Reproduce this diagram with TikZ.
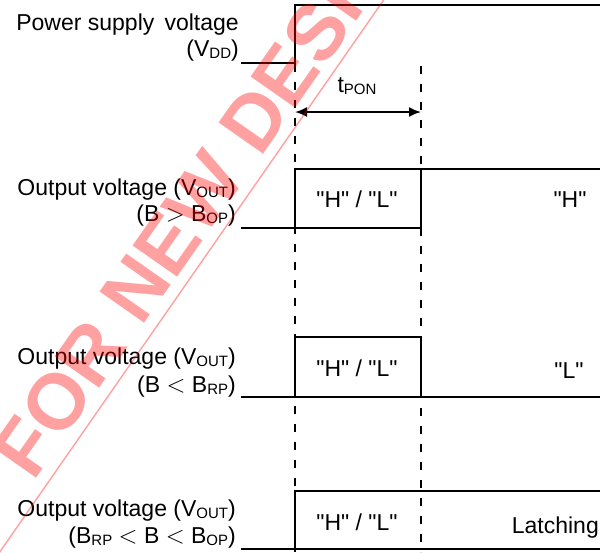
\documentclass[tikz,border=0pt]{standalone}
\usepackage{fontspec}
\setmainfont{Liberation Sans}
\usetikzlibrary{arrows.meta}
\newcommand\lsub[1]{\raisebox{-0.12em}{\fontsize{15}{15}\selectfont #1}}
\newcommand\qq[1]{\textquotedbl #1\textquotedbl}
\begin{document}
\begin{tikzpicture}[x=1pt,y=-1pt,
  sig/.style={line width=1.8pt, line cap=butt, line join=miter},
  guide/.style={line width=1.6pt, dash pattern=on 8pt off 10pt},
  lbl/.style={anchor=base east, inner sep=0pt, font=\fontsize{23}{27}\selectfont},
  statetxt/.style={anchor=base, inner sep=0pt, font=\fontsize{23}{27}\selectfont},
  wm/.style={anchor=base west, inner sep=0pt, rotate=55, text=red, text opacity=0.37,
     font=\fontsize{79}{79}\selectfont\bfseries},
  wmline/.style={draw=red, draw opacity=0.37, line width=1.4pt}]
\useasboundingbox (0,0) rectangle (609,552);

% guide lines
\coordinate (gLtop) at (295,64);
\coordinate (gLbot) at (295,552);
\coordinate (gRtop) at (421,66);
\coordinate (gRbot) at (421,552);
\draw[guide] (gLtop) -- (gLbot);
\draw[guide] (gRtop) -- (gRbot);

% t_PON arrow
\coordinate (aL) at (295,112);
\coordinate (aR) at (421,112);
\draw[line width=1.8pt, {Latex[length=12pt,width=10pt]}-{Latex[length=12pt,width=10pt]}] (aL) -- (aR);
\node[statetxt] (tpon) at (357,92) {t\lsub{PON}};

% VDD
\draw[sig] (241,63) -- (295,63) -- (295,5) -- (600,5);
\node[lbl] (vdd1) at (239,30) {Power supply\, voltage};
\node[lbl] (vdd2) at (239,56) {(V\lsub{DD})};

% Row 2
\draw[sig] (241,228) -- (421,228) -- (421,169);
\draw[sig] (295,228) -- (295,169) -- (600,169);
\node[lbl] (r2a) at (236,195) {Output voltage (V\lsub{OUT})};
\node[lbl] (r2b) at (236,221) {(B \(>\) B\lsub{OP})};
\node[statetxt] (r2s) at (357,207) {\qq{H} / \qq{L}};
\node[statetxt] (r2h) at (570,207) {\qq{H}};

% Row 3
\draw[sig] (241,397) -- (600,397);
\draw[sig] (295,397) -- (295,337) -- (421,337) -- (421,397);
\node[lbl] (r3a) at (236,364) {Output voltage (V\lsub{OUT})};
\node[lbl] (r3b) at (236,392) {(B \(<\) B\lsub{RP})};
\node[statetxt] (r3s) at (357,376) {\qq{H} / \qq{L}};
\node[statetxt] (r3l) at (569,378) {\qq{L}};

% Row 4
\draw[sig] (241,549) -- (600,549);
\draw[sig] (295,549) -- (295,491) -- (600,491);
\node[lbl] (r4a) at (236,516) {Output voltage (V\lsub{OUT})};
\node[lbl] (r4b) at (236,543) {(B\lsub{RP} \(<\) B \(<\) B\lsub{OP})};
\node[statetxt] (r4s) at (357,530) {\qq{H} / \qq{L}};
\node[statetxt, anchor=base east] (r4l) at (599,533) {Latching};

% watermark
\begin{scope}
\clip (0,0) rectangle (609,552);
\coordinate (wmA) at (-10,566);
\coordinate (wmB) at (392,-12);
\draw[wmline] (wmA) -- (wmB);
\node[wm] (wmtext) at (33.5,482.6) {FOR NEW DESIGN};
\end{scope}
\end{tikzpicture}
\end{document}
